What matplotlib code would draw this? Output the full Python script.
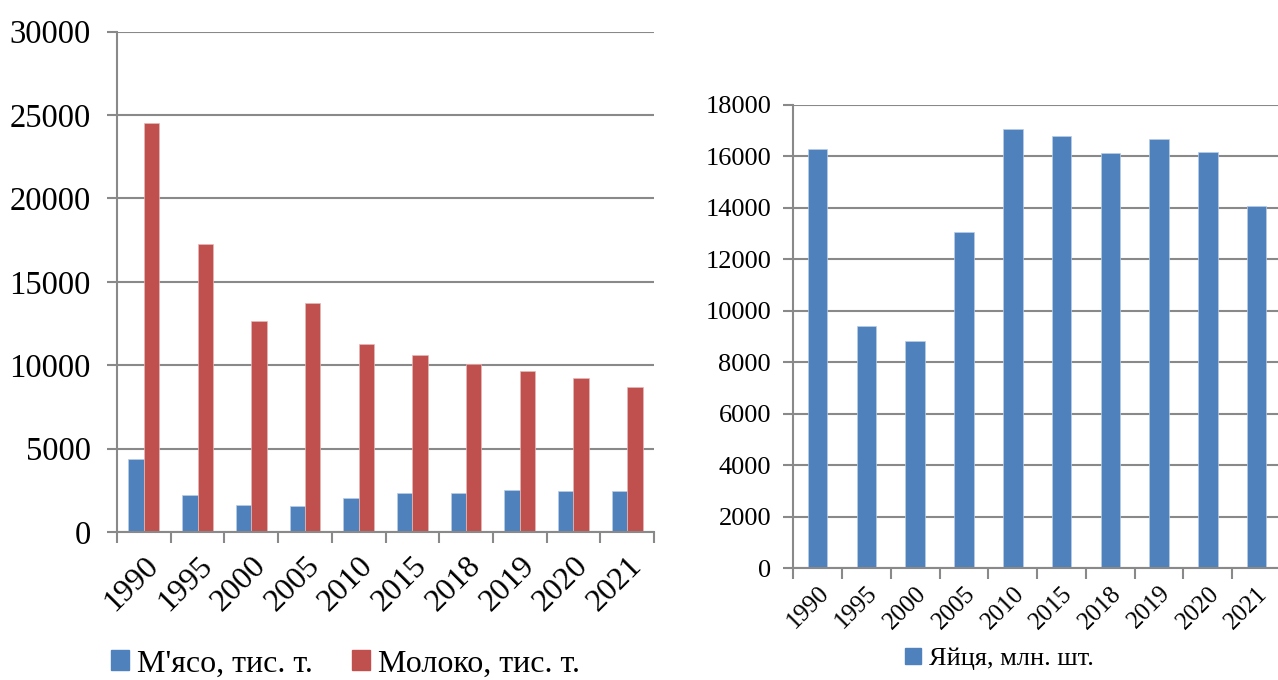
import matplotlib
matplotlib.use("Agg")
import matplotlib.pyplot as plt
from matplotlib.patches import Patch
import numpy as np

years = ["1990", "1995", "2000", "2005", "2010", "2015", "2018", "2019", "2020", "2021"]
meat = [4360, 2240, 1640, 1560, 2060, 2320, 2350, 2490, 2480, 2430]
milk = [24510, 17270, 12660, 13710, 11250, 10620, 10060, 9660, 9260, 8710]
eggs = [16290, 9400, 8810, 13040, 17050, 16780, 16130, 16680, 16170, 14070]

label_meat = "М'ясо, тис. т."
label_milk = "Молоко, тис. т."
label_eggs = "Яйця, млн. шт."

BLUE = "#4F81BD"
RED = "#C0504D"
GRID = "#898989"

plt.rcParams['font.family'] = ['Liberation Serif', 'DejaVu Serif']

W, H = 1278, 680
fig = plt.figure(figsize=(W / 100, H / 100), dpi=100)


def frac(x0, y0, x1, y1):
    return [x0 / W, 1 - y1 / H, (x1 - x0) / W, (y1 - y0) / H]


def style(ax, fs_y, fs_x, xpad, ypad):
    x = np.arange(len(years))
    ax.set_xlim(-0.5, len(years) - 0.5)
    ax.set_xticks(np.arange(len(years) + 1) - 0.5)
    ax.set_xticklabels([])
    ax.set_xticks(x, minor=True)
    ax.set_xticklabels(years, minor=True, rotation=45, ha='right', va='top',
                       rotation_mode='anchor', fontsize=fs_x)
    ax.tick_params(axis='x', which='minor', length=0, pad=xpad)
    ax.tick_params(axis='x', which='major', length=8, width=1.5, color=GRID, direction='out')
    ax.tick_params(axis='y', length=7, width=1.5, color=GRID, direction='out', labelsize=fs_y, pad=ypad)
    for s in ['top', 'right']:
        ax.spines[s].set_visible(False)
    for s in ['left', 'bottom']:
        ax.spines[s].set_color(GRID)
        ax.spines[s].set_linewidth(1.5)
    ax.yaxis.grid(True, color=GRID, linewidth=1.5)
    ax.set_axisbelow(True)


# Left chart
ax1 = fig.add_axes(frac(117, 31.7, 654, 532))
x = np.arange(len(years))
bw = 0.286
ax1.bar(x - bw / 2, meat, width=bw, color=BLUE, edgecolor="#B9CDE5", linewidth=0.5, label=label_meat)
ax1.bar(x + bw / 2, milk, width=bw, color=RED, edgecolor="#E6B9B8", linewidth=0.5, label=label_milk)
ax1.set_ylim(0, 30000)
ax1.set_yticks(np.arange(0, 30001, 5000))
style(ax1, 23.5, 23, 14, 12)

fig.legend(handles=[Patch(color=BLUE), Patch(color=RED)], labels=[label_meat, label_milk],
           loc='center left', bbox_to_anchor=(111 / W, 1 - 664 / H), ncol=2, frameon=False,
           fontsize=23, handlelength=0.55, handleheight=0.6, handletextpad=0.25,
           columnspacing=1.25, borderaxespad=0, borderpad=0)

# Right chart
ax2 = fig.add_axes(frac(793.3, 104.7, 1281, 568.3))
ax2.bar(x, eggs, width=0.4, color=BLUE, edgecolor="#B9CDE5", linewidth=0.5, label=label_eggs)
ax2.set_ylim(0, 18000)
ax2.set_yticks(np.arange(0, 18001, 2000))
style(ax2, 19, 18, 10, 9)

fig.legend(handles=[Patch(color=BLUE)], labels=[label_eggs],
           loc='center left', bbox_to_anchor=(905 / W, 1 - 659 / H), frameon=False,
           fontsize=19, handlelength=0.6, handleheight=0.6, handletextpad=0.3,
           borderaxespad=0, borderpad=0)

fig.savefig("out.png", dpi=100)
